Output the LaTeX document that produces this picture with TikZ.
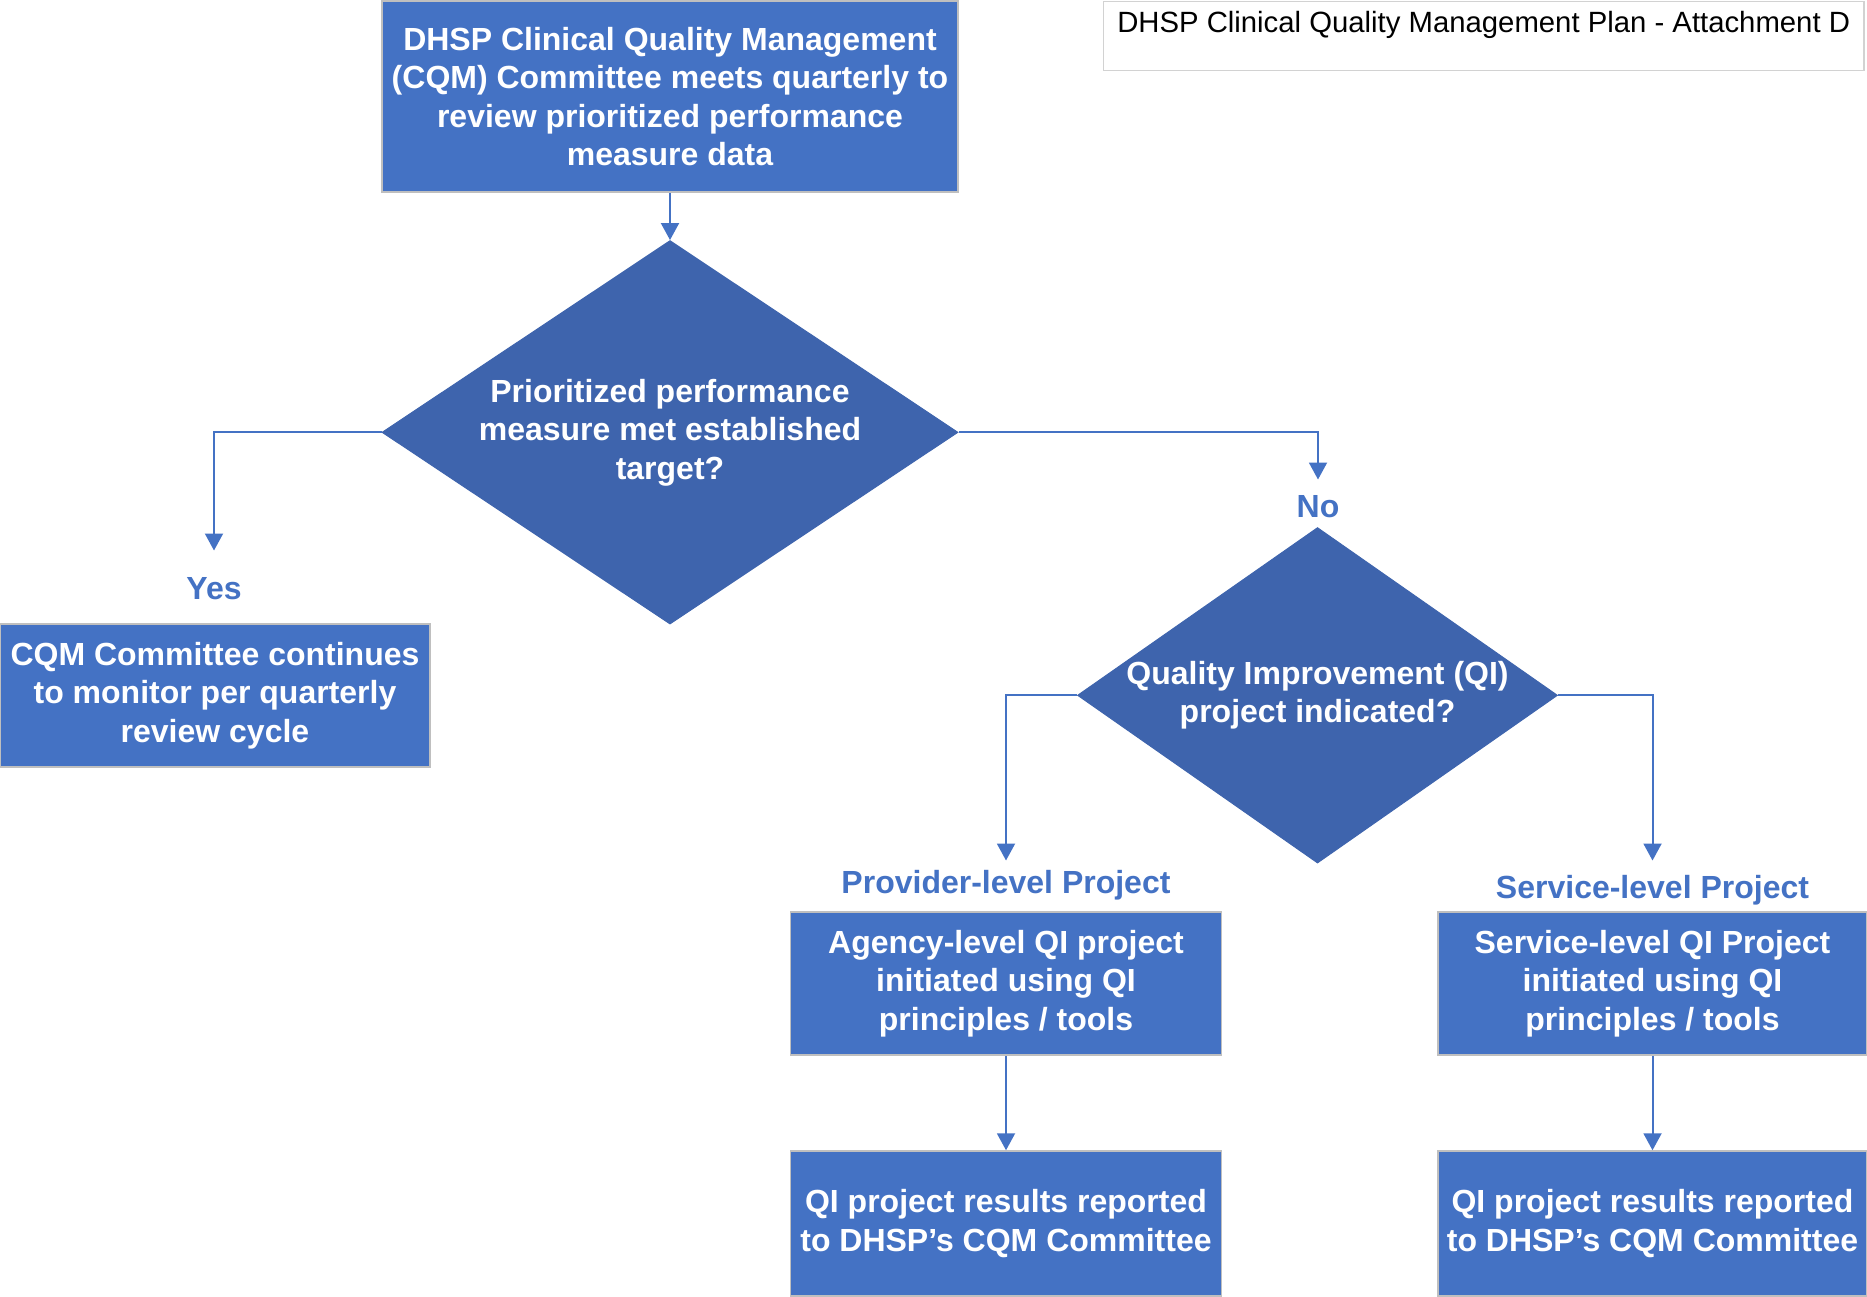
\documentclass[tikz,border=0pt]{standalone}
\usepackage{fontspec}
\setmainfont{Liberation Sans}
\usetikzlibrary{shapes.geometric,arrows.meta}
\definecolor{boxblue}{HTML}{4472C4}
\definecolor{diamondblue}{HTML}{3E64AD}
\definecolor{edgegray}{HTML}{BFBFBF}

\begin{document}
\begin{tikzpicture}[x=1pt,y=-1pt,->,>={Triangle[length=17pt,width=18pt]},line width=2pt,
    block node/.style={rectangle,draw=edgegray,line width=1.5pt,fill=boxblue,text=white,inner sep=0pt,align=center,font=\bfseries\fontsize{32}{38.5}\selectfont},
    decision node/.style={diamond,draw=diamondblue,line width=1pt,fill=diamondblue,inner sep=0pt},
    decision text/.style={text=white,align=center,inner sep=0pt,font=\bfseries\fontsize{32}{38.5}\selectfont},
    label node/.style={text=boxblue,inner sep=0pt,text height=23pt,text depth=7pt,font=\bfseries\fontsize{32}{38.5}\selectfont},
    title node/.style={rectangle,draw=gray!35,line width=1.5pt,fill=white,anchor=north west,inner xsep=14pt,inner ysep=11pt,text height=20pt,text depth=27pt,font=\fontsize{29.3}{34}\selectfont}]
            \useasboundingbox (0,0) rectangle (1867,1296);

            \node (0) [title node] at (1102.5,0.5) {DHSP Clinical Quality Management Plan - Attachment D};

            \node (1) [block node, minimum width=576pt, minimum height=191pt] at (670,96.5) {DHSP Clinical Quality Management\\(CQM) Committee meets quarterly to\\review prioritized performance\\measure data};
            \node (2) [decision node, minimum width=576pt, minimum height=383.5pt, label={[decision text]center:{Prioritized performance\\measure met established\\target?}}] at (670,432.3) {};

            \node (3) [label node] at (214,591.5) {Yes};
            \node (4) [block node, minimum width=430pt, minimum height=143pt] at (215,695.5) {CQM Committee continues\\to monitor per quarterly\\review cycle};

            \node (5) [label node] at (1318,509.5) {No};
            \node (6) [decision node, minimum width=480pt, minimum height=335.5pt, label={[decision text]center:{Quality Improvement (QI)\\project indicated?}}] at (1317.5,695.3) {};

            \node (7) [label node] at (1006,885.5) {Provider-level Project};
            \node (8) [label node] at (1652.5,890.5) {Service-level Project};

            \node (9) [block node, minimum width=431pt, minimum height=143pt] at (1006,983.5) {Agency-level QI project\\initiated using QI\\principles / tools};
            \node (10) [block node, minimum width=431pt, minimum height=145pt] at (1006,1223.5) {QI project results reported\\to DHSP’s CQM Committee};
            \node (11) [block node, minimum width=429pt, minimum height=143pt] at (1652.5,983.5) {Service-level QI Project\\initiated using QI\\principles / tools};
            \node (12) [block node, minimum width=429pt, minimum height=145pt] at (1652.5,1223.5) {QI project results reported\\to DHSP’s CQM Committee};

            \path[boxblue]
                (1) edge (2)
                (9) edge (10)
                (11) edge (12)
                ;
            \draw[boxblue] (2.west) -| ([yshift=25pt]3.north);
            \draw[boxblue] (2.east) -| ([yshift=14pt]5.north);
            \draw[boxblue] (6.west) -| ([yshift=9pt]7.north);
            \draw[boxblue] (6.east) -| ([yshift=14pt]8.north);
        \end{tikzpicture}
\end{document}
